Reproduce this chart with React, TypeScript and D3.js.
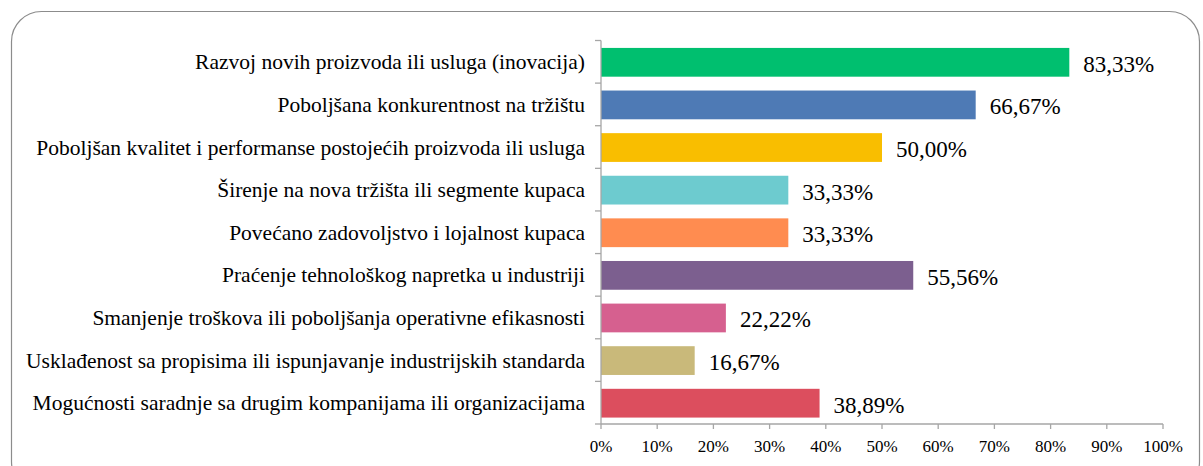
import React from "react";
import * as d3 from "d3";

const categories = [
  "Razvoj novih proizvoda ili usluga (inovacija)",
  "Poboljšana konkurentnost na tržištu",
  "Poboljšan kvalitet i performanse postojećih proizvoda ili usluga",
  "Širenje na nova tržišta ili segmente kupaca",
  "Povećano zadovoljstvo i lojalnost kupaca",
  "Praćenje tehnološkog napretka u industriji",
  "Smanjenje troškova ili poboljšanja operativne efikasnosti",
  "Usklađenost sa propisima ili ispunjavanje industrijskih standarda",
  "Mogućnosti saradnje sa drugim kompanijama ili organizacijama",
];
const values = [83.33, 66.67, 50.0, 33.33, 33.33, 55.56, 22.22, 16.67, 38.89];
const colors = ["#00BF6F", "#4E7AB5", "#F9BE00", "#6DCBCF", "#FF8C50", "#7C5F8F", "#D6608F", "#C9B97A", "#DC4E5E"];
const ticks = [0, 10, 20, 30, 40, 50, 60, 70, 80, 90, 100];

export default function App() {
  const W = 1203, H = 466;
  const x0 = 601, x1 = 1163, yTop = 40.5, yBot = 424;
  const x = d3.scaleLinear().domain([0, 100]).range([x0, x1]);
  const y = d3.scaleBand<string>().domain(categories).range([yTop, yBot]).paddingInner(0.325).paddingOuter(0.1625);
  const step = (yBot - yTop) / categories.length;
  const ff = { fontFamily: '"Liberation Serif"' };
  const fmt = (v: number) => v.toFixed(2).replace(".", ",") + "%";
  const axisColor = "#A6A6A6";
  return (
    <svg width={W} height={H} style={{ position: "absolute", left: 0, top: 0 }}>
      <rect x={0} y={0} width={W} height={H} fill="#fff" />
      <rect x={11.5} y={11.5} width={1188} height={480} rx={30} ry={30} fill="none" stroke="#8C8C8C" strokeWidth={1.2} />
      {categories.map((c, i) => {
        const cy = (y(c) as number) + y.bandwidth() / 2;
        return (
          <g key={c}>
            <rect x={x(0)} y={(y(c) as number) + 0.5} width={x(values[i]) - x(0)} height={y.bandwidth()} fill={colors[i]} />
            <text x={585} y={cy + 7.5} textAnchor="end" fontSize={21.5} fill="#000" style={ff}>{c}</text>
            <text x={x(values[i]) + 14} y={cy + 10} fontSize={23} fill="#000" style={ff}>{fmt(values[i])}</text>
          </g>
        );
      })}
      <line x1={x0} x2={x0} y1={yTop} y2={yBot} stroke={axisColor} strokeWidth={1.3} />
      {d3.range(categories.length + 1).map((k) => (
        <line key={"yt" + k} x1={x0 - 6} x2={x0} y1={yTop + k * step} y2={yTop + k * step} stroke={axisColor} strokeWidth={1.3} />
      ))}
      <line x1={x0} x2={x1} y1={yBot} y2={yBot} stroke={axisColor} strokeWidth={1.3} />
      {ticks.map((t) => (
        <g key={"xt" + t}>
          <line x1={x(t)} x2={x(t)} y1={yBot} y2={yBot + 5} stroke={axisColor} strokeWidth={1.3} />
          <text x={x(t)} y={yBot + 28} textAnchor="middle" fontSize={17} fill="#000" style={ff}>{t + "%"}</text>
        </g>
      ))}
    </svg>
  );
}
